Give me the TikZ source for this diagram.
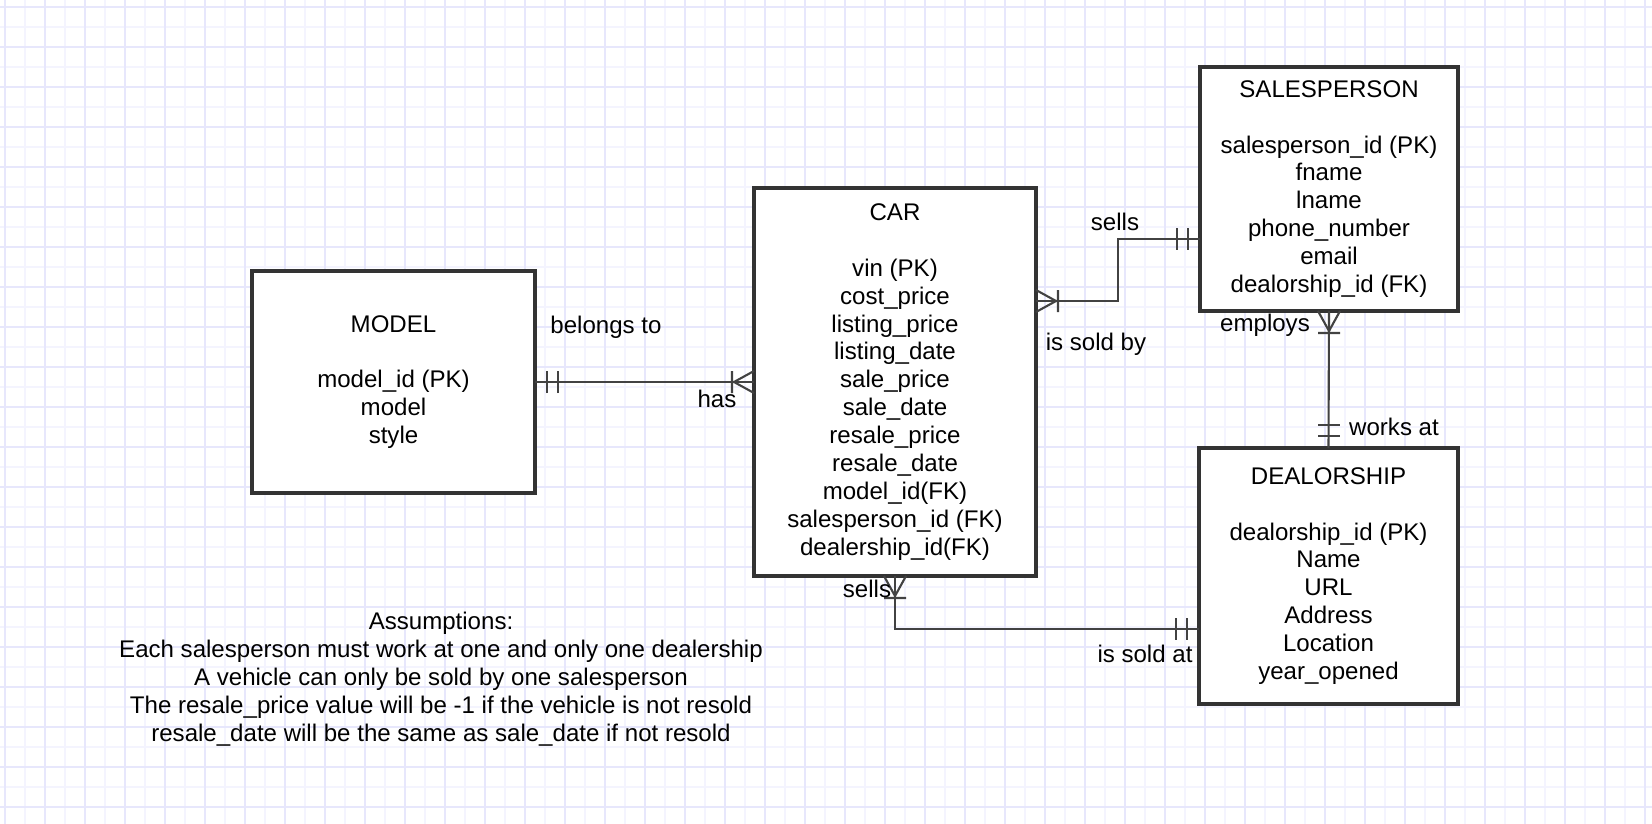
\documentclass[tikz,border=0pt]{standalone}
\usepackage{fontspec}
\setmainfont{Liberation Sans}
\usetikzlibrary{calc}
\definecolor{gridmajor}{RGB}{231,231,252}
\definecolor{gridminor}{RGB}{244,244,254}
\definecolor{edgegray}{RGB}{51,51,51}
\definecolor{linkgray}{RGB}{66,66,66}

\def\PX{0.02cm}  % one pixel of the page

\tikzset{
  entity/.style={draw=edgegray, line width=1.8pt, fill=white, inner sep=0pt,
    outer sep=0pt, align=center, font=\fontsize{13.7}{15.9}\selectfont},
  link/.style={draw=linkgray, line width=1.2pt},
  relname/.style={anchor=base, inner sep=0pt, font=\fontsize{13.7}{15.9}\selectfont},
  % +x of a pic points into the box it ends at
  mandone/.pic={\draw[link] (-12,-11) -- (-12,11) (-23,-11) -- (-23,11);},
  mandmany/.pic={\draw[link] (-22,-11) -- (-22,11) (0,-11) -- (-20,0) -- (0,11);}
}

\begin{document}
\begin{tikzpicture}[x=\PX, y=-\PX]

\useasboundingbox (0,0) rectangle (1652,824);
\fill[white] (0,0) rectangle (1652,824);

% Grid paper
\foreach \gx in {25,65,...,1645} \draw[gridminor, line width=0.6pt] (\gx,0) -- (\gx,824);
\foreach \gy in {27,67,...,807}  \draw[gridminor, line width=0.6pt] (0,\gy) -- (1652,\gy);
\foreach \gx in {5,45,...,1645}  \draw[gridmajor, line width=0.8pt] (\gx,0) -- (\gx,824);
\foreach \gy in {7,47,...,807}   \draw[gridmajor, line width=0.8pt] (0,\gy) -- (1652,\gy);

% Entities
\node[entity, minimum width={283*\PX}, minimum height={222*\PX}] (model) at (393.5,382)
  {MODEL\\[15.9pt] model\_id (PK)\\ model\\ style};
\node[entity, minimum width={282*\PX}, minimum height={388*\PX}] (car) at (895,382)
  {CAR\\[15.9pt] vin (PK)\\ cost\_price\\ listing\_price\\ listing\_date\\ sale\_price\\ sale\_date\\
   resale\_price\\ resale\_date\\ model\_id(FK)\\ salesperson\_id (FK)\\ dealership\_id(FK)};
\node[entity, minimum width={258*\PX}, minimum height={244*\PX}] (sales) at (1329,189)
  {SALESPERSON\\[15.9pt] salesperson\_id (PK)\\ fname\\ lname\\ phone\_number\\ email\\ dealorship\_id (FK)};
\node[entity, minimum width={259*\PX}, minimum height={256*\PX}] (dealer) at (1328.5,576)
  {DEALORSHIP\\[15.9pt] dealorship\_id (PK)\\ Name\\ URL\\ Address\\ Location\\ year\_opened};

% Relationships
\draw[link] (model.east) -- (car.west);
\pic[rotate=180] at (model.east) {mandone};
\pic at (car.west) {mandmany};

\draw[link] ($(car.east)+(0,-81)$) -- ++(82,0) |- ($(sales.west)+(0,50)$);
\pic[rotate=180] at ($(car.east)+(0,-81)$) {mandmany};
\pic at ($(sales.west)+(0,50)$) {mandone};

\draw[link] (sales.south) -- (dealer.north);
\pic[rotate=90] at (sales.south) {mandmany};
\pic[rotate=-90] at (dealer.north) {mandone};

\draw[link] (car.south) |- ($(dealer.west)+(0,53)$);
\pic[rotate=90] at (car.south) {mandmany};
\pic at ($(dealer.west)+(0,53)$) {mandone};

% Relationship names
\node[relname] (belongs) at (606,333) {belongs to};
\node[relname] (has) at (717,407) {has};
\node[relname] (sells) at (1115,231) {sells};
\node[relname] (soldby) at (1096,350) {is sold by};
\node[relname] (employs) at (1265,331) {employs};
\node[relname] (worksat) at (1394,435) {works at};
\node[relname] (sellsto) at (867,597) {sells};
\node[relname] (soldat) at (1145,662) {is sold at};

% Notes
\node[align=center, inner sep=0pt, font=\fontsize{13.7}{15.9}\selectfont] (notes) at (441,679)
  {Assumptions:\\ Each salesperson must work at one and only one dealership\\
   A vehicle can only be sold by one salesperson\\
   The resale\_price value will be -1 if the vehicle is not resold\\
   resale\_date will be the same as sale\_date if not resold};

\end{tikzpicture}
\end{document}
